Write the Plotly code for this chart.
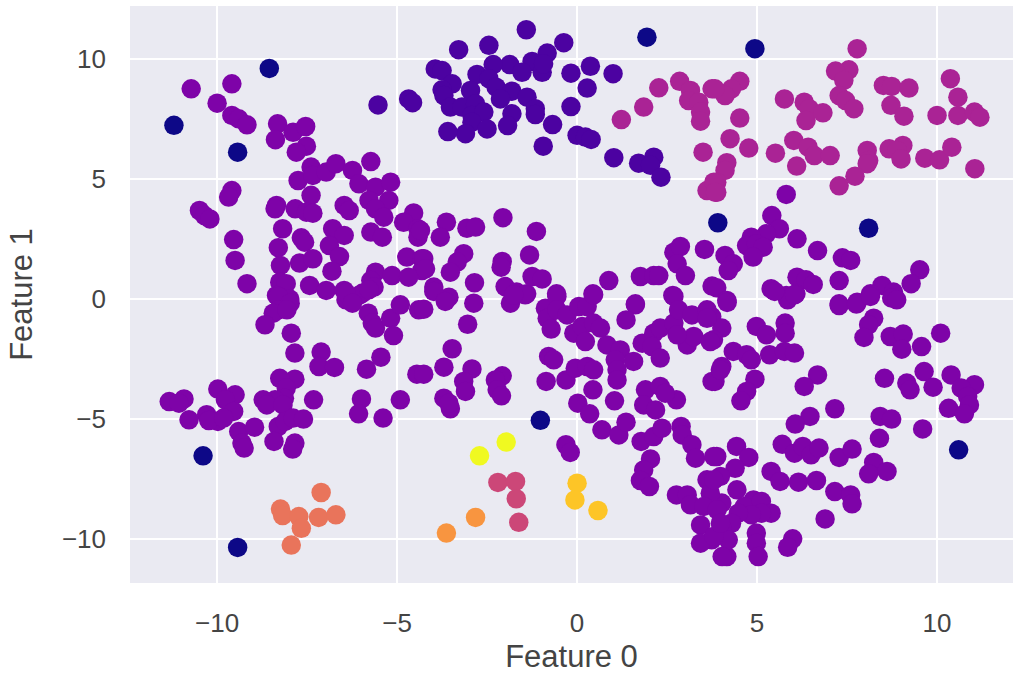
import plotly.graph_objects as go

noise = [(-11.2,7.23),(-8.55,9.6),(-9.43,6.11),(1.94,10.9),(4.94,10.42),(3.91,3.17),(8.1,2.94),(-1.02,-5.06),(10.6,-6.29),(-10.39,-6.54),(-9.43,-10.36)]

indigo = [(-5.53,8.08),(-4.68,8.33),(-4.57,8.17),(-1.41,11.21),(-3.29,10.38),(-2.45,10.56),(-0.37,10.67),(-0.83,10.24),(-1.25,9.89),(-1.87,9.76),(-2.33,9.76),(-3.94,9.58),(-3.75,9.51),(-2.78,9.35),(-2.45,9.17),(-1.53,9.44),(-0.97,9.44),(-0.93,9.79),(-0.17,9.4),(0.37,9.69),(1.0,9.38),(0.28,8.78),(-3.47,8.96),(-3.75,8.71),(-3.7,8.47),(-2.96,8.68),(-2.25,8.82),(-1.81,8.65),(-2.13,8.33),(-1.39,8.4),(-1.16,7.92),(-1.16,7.68),(-0.17,8.01),(-3.52,7.99),(-3.2,7.99),(-2.82,8.12),(-2.92,7.64),(-2.59,7.78),(-2.92,7.36),(-1.81,7.71),(-1.93,7.22),(-0.68,7.26),(-2.5,7.08),(-3.1,6.88),(-3.59,6.97),(-0.94,6.36),(0,6.81),(0.23,6.74),(0.39,6.64),(1.02,5.88),(1.71,5.65),(2.13,5.9),(2.04,5.56),(2.33,5.07)]

magenta = [(1.23,7.47),(1.85,7.99),(2.27,8.79),(2.85,9.06),(3.15,8.68),(3.1,8.26),(3.38,8.19),(3.43,7.78),(3.43,7.4),(3.75,8.75),(3.5,6.11),(7.78,10.42),(7.55,9.54),(7.18,9.49),(7.41,9.1),(7.28,8.47),(7.46,8.26),(7.69,7.92),(8.51,8.89),(8.74,8.85),(9.22,8.78),(8.72,8.06),(9.08,7.61),(10,7.64),(10.58,7.64),(10.58,8.4),(10.37,9.17),(11.04,7.78),(11.19,7.57),(5.76,8.33),(6.31,8.19),(6.45,7.92),(6.36,7.43),(6.83,7.75),(4.52,9.06),(4.29,8.75),(4.11,8.47),(3.83,8.75),(4.52,7.53),(4.25,6.67),(4.77,6.28),(4.16,5.67),(4.11,5.35),(3.88,4.86),(3.88,4.44),(5.51,6.07),(6.02,6.6),(6.42,6.32),(6.59,5.97),(7.03,5.97),(6.1,5.53),(8.06,6.18),(8.1,5.76),(8.06,5.63),(7.72,5.11),(7.28,4.71),(8.67,6.25),(9.05,6.39),(8.89,6.18),(9.0,5.83),(9.66,5.86),(10.07,5.79),(10.41,6.32),(11.05,5.42),(3.61,4.51),(3.8,4.86),(3.84,4.44)]

purple = [
(-10.72,8.75),(-9.59,8.96),(-10,8.15),(-9.59,7.64),(-9.4,7.5),(-9.17,7.25),(-8.32,7.29),(-8.38,6.63),(-7.89,6.94),(-7.54,7.18),(-7.52,6.36),(-7.8,6.11),(-7.39,5.49),(-7.75,4.93),(-7.34,5.14),(-6.97,5.28),(-6.7,5.63),(-6.24,5.35),(-5.73,5.72),(-6.06,4.79),(-5.6,4.65),(-5.18,4.86),(-5.23,4.1),(-5.78,4.1),(-7.39,4.31),(-9.59,4.51),(-9.68,4.24),(-10.49,3.68),(-10.35,3.47),(-10.2,3.33),(-8.35,3.89),(-8.39,3.75),(-7.83,3.75),(-7.52,3.61),(-7.34,3.57),(-6.47,3.89),(-6.33,3.68),(-5.6,3.75),(-5.37,3.4),(-4.54,3.58),(-4.82,3.19),(-4.42,2.92),(-4.42,2.57),(-5.73,2.78),(-5.41,2.57),(-8.18,2.92),(-6.79,2.92),(-6.47,2.64),(-7.66,2.54),(-7.57,2.36),(-8.3,2.13),(-6.88,2.22),(-6.6,1.76),(-9.54,2.47),(-9.5,1.6),(-9.17,0.63),(-8.24,1.39),(-7.71,1.49),(-7.34,1.67),(-6.81,1.15),(-4.73,1.74),(-4.31,1.67),(-4.31,1.18),(-5.6,1.11),(-5.14,0.97),(-4.68,0.9),(-5.73,0.76),(-5.64,0.49),(-8.26,0.69),(-8.08,0.63),(-7.43,0.56),(-6.97,0.35),(-6.47,0.35),(-6.06,0.14),(-8.35,0.14),(-7.98,-0.01),
(-8.3,0.1),(-7.97,-0.18),(-8.3,-0.46),(-8.44,-0.6),(-8.67,-1.08),(-8.06,-0.46),(-7.94,-1.43),(-7.84,-2.26),(-7.11,-2.22),(-7.17,-2.82),(-6.74,-2.86),(-5.85,-2.93),(-5.45,-2.43),(-4.45,-3.14),(-4.91,-4.21),(-5.99,-4.17),(-6.07,-4.79),(-5.39,-4.97),(-7.32,-4.21),(-7.84,-3.35),(-8.26,-3.31),(-8.08,-3.72),(-8.13,-4.14),(-8.39,-4.21),(-8.72,-4.21),(-8.62,-4.42),(-8.17,-4.42),(-9.98,-3.76),(-9.5,-4.0),(-9.77,-4.21),(-9.54,-4.69),(-10.29,-4.83),(-9.98,-5.11),(-10.23,-5.07),(-9.82,-4.97),(-10.78,-5.04),(-11.33,-4.28),(-10.92,-4.17),(-11.06,-4.35),(-9.4,-5.53),(-8.96,-5.35),(-9.31,-6.01),(-9.25,-6.22),(-8.3,-5.32),(-8.42,-5.94),(-8.11,-5.11),(-7.89,-4.97),(-7.6,-5.01),(-7.84,-6.01),(-7.9,-6.26),(-5.8,-0.6),(-5.69,-1.01),(-5.6,-1.22),(-5.18,-0.81),(-4.91,-0.25),(-4.4,-0.46),(-5.1,-1.53),(-6.42,-0.04),(-5.96,0.24),(-6.42,0.24),(-6.24,-0.18),(-5.78,0.38),
(-4.35,2.85),(-3.63,3.19),(-3.8,2.57),(-3.06,2.94),(-2.82,2.99),(-2.06,3.38),(-1.13,2.81),(-3.15,1.88),(-3.33,1.53),(-3.52,1.11),(-4.26,1.67),(-4.21,1.25),(-2.08,1.56),(-2.11,1.32),(-1.32,1.83),(-2.85,0.67),(-3.98,0.49),(-3.56,0.07),(-2,0.51),(-1.68,0.28),(-1.4,0.21),(-1.25,0.93),(-0.97,0.83),(-0.57,0.21),(0.44,0.21),(0.88,0.76),(1.76,0.93),(2.13,0.97),(2.27,0.97),(2.69,1.94),(2.87,2.18),(2.78,1.46),(3.01,0.97),(3.54,2.06),(3.75,0.53),(2.66,0.14),(1.62,-0.21),
(5.81,4.35),(5.41,3.47),(5.62,2.92),(5.26,2.71),(4.84,2.57),(4.71,2.22),(4.98,2.29),(5.17,2.15),(4.89,1.74),(4.11,1.81),(4.34,1.46),(4.2,1.18),(6.11,2.5),(6.68,2.01),(7.37,1.71),(7.6,1.6),(7.28,0.76),(6.11,0.9),(6.36,0.79),(6.56,0.6),(5.39,0.42),(5.81,0.14),(6.08,0.21),(9.52,1.21),(9.28,0.63),(8.47,0.56),(8.79,0.28),(8.15,0.21),(7.28,-0.21),(7.78,-0.14),(3.88,0.46),(4.16,-0.07),
(4.17,-0.15),(5.85,-0.04),(5.49,0.31),(6.04,0.17),(7.28,-0.28),(7.76,-0.22),(8.15,0.1),(8.74,0.03),(8.88,-0.04),(8.24,-0.81),(8.1,-1.08),(7.97,-1.61),(8.7,-1.57),(9.06,-1.47),(9.02,-2.1),(9.57,-1.99),(10.1,-1.43),(3.74,-0.74),(4.02,-1.22),(3.79,-1.71),(4.98,-1.15),(5.26,-1.5),(5.78,-1.01),(5.78,-1.43),(4.34,-2.19),(4.71,-2.33),(4.84,-2.54),(5.35,-2.33),(5.76,-2.19),(6.04,-2.26),(4.02,-2.82),(3.83,-3.44),(4.94,-3.35),(4.71,-3.86),(4.55,-4.25),(6.68,-3.17),(6.31,-3.65),(8.54,-3.31),(9.16,-3.51),(9.25,-3.79),(9.64,-3.03),(9.89,-3.68),(10.39,-3.17),(11.04,-3.58),(10.67,-3.72),(10.85,-4.07),(10.9,-4.42),(10.32,-4.56),(10.76,-4.79),(7.16,-4.58),(6.47,-4.9),(6.06,-5.22),(8.42,-4.9),(8.74,-5.01),(8.4,-5.81),(9.6,-5.42),(5.7,-6.06),(6.04,-6.43),(6.27,-6.15),(6.5,-6.5),(6.72,-6.22),(7.28,-6.61),(7.64,-6.26),(8.24,-6.82),(8.1,-7.29),(8.61,-7.19),(5.39,-7.19),(5.64,-7.61),(6.15,-7.64),(6.65,-7.57),(7.16,-8.03),(7.6,-8.17),(7.64,-8.54),(6.89,-9.17),(5.99,-10),(5.85,-10.35),(4.98,-9.76),(4.98,-10.18),(5.03,-10.74),(4.16,-10.74),(4.43,-6.15),(4.77,-6.61),(4.39,-7.06),(3.88,-6.57),(3.98,-7.4),(4.44,-7.96),(4.9,-8.38),(3.74,-8.38),(4.02,-8.51),(4.65,-8.65),(5.12,-8.44),(5.39,-8.93),(5.12,-8.93),(4.84,-9.0),(4.48,-8.93),(4.29,-9.35),(4.02,-9.56),(3.83,-9.9),(4.2,-10.04),(3.74,-10.04),
(-4.26,-0.43),(-3.98,0.31),(-3.66,-0.11),(-2.87,-0.18),(-3.04,-1.06),(-3.47,-2.08),(-3.7,-2.85),(-4.26,-3.14),(-2.92,-2.92),(-3.15,-3.44),(-3.1,-3.86),(-3.7,-4.14),(-3.52,-4.58),(-3.56,-4.35),(-2.08,-3.21),(-2.27,-3.38),(-2.22,-3.79),(-2.1,-4.04),(-1.85,-0.18),(-1.44,0.17),(-1.76,0.17),(-0.88,-0.39),(-0.83,-0.81),(-0.72,-1.26),(-0.56,0.1),(-0.56,-0.46),(-0.28,-0.67),(0.05,-0.32),(0.28,-0.32),(0.46,0.17),(1.62,-0.25),(1.36,-0.88),(-0.09,-1.43),(0.14,-1.15),(0.23,-1.78),(0.46,-1.01),(0.65,-1.22),(-0.79,-2.4),(-0.65,-2.54),(-0.86,-3.44),(-0.31,-3.38),(-0.05,-2.89),(0.28,-2.82),(0.46,-2.96),(0.44,-3.79),(1.04,-4.25),(0.02,-4.35),(0.35,-4.79),(0.69,-5.46),(1.16,-5.67),(1.36,-5.14),(1.78,-5.94),(2.13,-5.74),(2.36,-5.39),(-0.31,-6.08),(-0.19,-6.4),(2.04,-6.67),(1.85,-7.13),(1.76,-7.57),(2.01,-7.82),(0.83,-1.92),(1.2,-2.13),(1.06,-2.54),(1.57,-2.61),(1.11,-2.96),(1.11,-3.38),(1.81,-1.85),(2.13,-1.43),(2.31,-1.22),(2.08,-1.99),(2.31,-2.47),(2.69,-1.01),(2.69,0.1),(2.82,-0.46),(3.19,-0.67),(3.61,-0.46),(3.61,-0.81),(3.06,-1.92),(3.24,-1.57),(3.7,-1.78),(2.78,-1.5),(3.75,-3.44),(3.98,-2.96),(1.9,-3.79),(2.31,-3.65),(1.85,-4.42),(2.18,-4.63),(2.76,-4.21),(2.45,-3.93),(2.89,-5.32),(2.92,-5.67),(3.19,-6.08),(3.29,-6.64),(3.8,-6.57),(3.61,-7.54),(2.76,-8.17),(3.06,-8.17),(3.15,-8.58),(3.7,-8.1),(3.43,-9.42),(3.52,-8.65),(3.43,-10.18),(3.8,-9.9),(4.03,-10.74),(3.89,-8.79),(3.98,-9.35),(3.8,-7.54)]

rose = [(-2.2,-7.65),(-1.71,-7.61),(-1.69,-8.33),(-1.62,-9.31)]
coral = [(-7.11,-8.07),(-8.24,-8.76),(-8.18,-9.03),(-7.73,-9.07),(-7.18,-9.11),(-6.7,-9.0),(-7.66,-9.56),(-7.94,-10.26)]
orange = [(-2.82,-9.11),(-3.63,-9.76)]
amber = [(0,-7.68),(-0.06,-8.38),(0.58,-8.82)]
yellow = [(-1.97,-5.97),(-2.71,-6.54)]

clusters = [
    (noise, "#0d0887"), (indigo, "#4c02a1"), (purple, "#7e03a8"), (magenta, "#aa2395"),
    (rose, "#cc4778"), (coral, "#e9745b"), (orange, "#f89540"), (amber, "#fdc527"), (yellow, "#f0f921"),
]
x_ticks = [-10, -5, 0, 5, 10]
y_ticks = [-10, -5, 0, 5, 10]
x_labels = ["\u221210", "\u22125", "0", "5", "10"]
y_labels = ["\u221210", "\u22125", "0", "5", "10"]

fig = go.Figure()
for pts, color in clusters:
    fig.add_trace(go.Scatter(
        x=[p[0] for p in pts], y=[p[1] for p in pts], mode="markers",
        marker=dict(size=19.5, color=color, line=dict(width=0)), showlegend=False))

font = "Liberation Sans, Arial, sans-serif"
text_color = "#444444"
axis = dict(showgrid=True, gridcolor="white", gridwidth=2, zeroline=False, showline=False,
            ticks="", tickfont=dict(family=font, size=26, color=text_color))
fig.update_layout(
    width=1013, height=677, margin=dict(l=130, r=0, t=6, b=94),
    paper_bgcolor="white", plot_bgcolor="#eaeaf2", showlegend=False,
    xaxis=dict(axis, range=[-12.42, 12.11], tickvals=x_ticks, ticktext=x_labels, ticklabelstandoff=22,
               title=dict(text="Feature 0", font=dict(family=font, size=31, color=text_color), standoff=8)),
    yaxis=dict(axis, range=[-11.84, 12.2], tickvals=y_ticks, ticktext=y_labels, ticklabelstandoff=23,
               title=dict(text="Feature 1", font=dict(family=font, size=31, color=text_color), standoff=20)),
)
fig.write_html("out.html", post_script="document.body.style.margin='0';", config={"displayModeBar": False})
